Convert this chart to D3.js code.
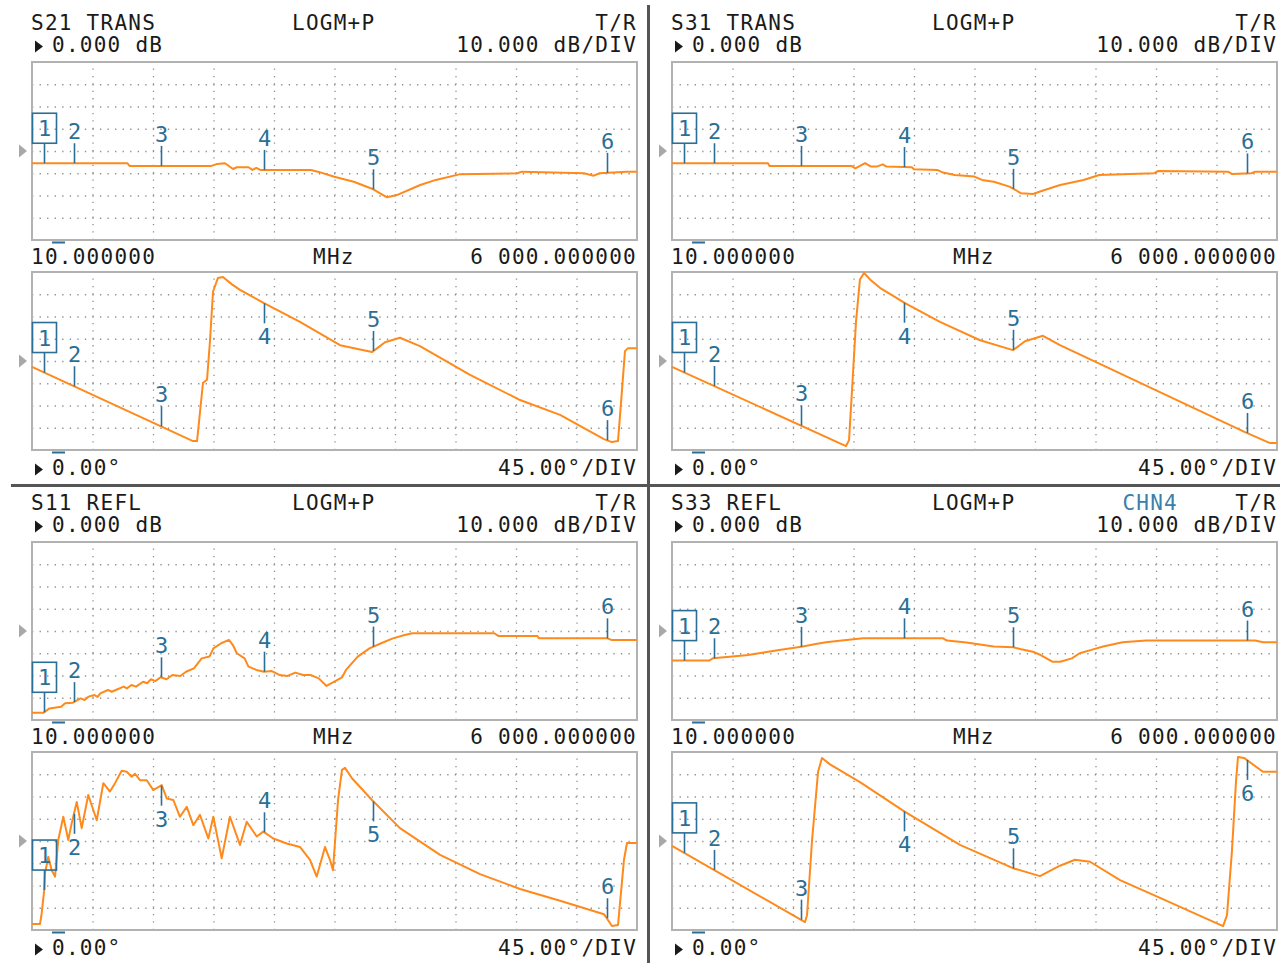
<!DOCTYPE html>
<html>
<head>
<meta charset="utf-8">
<script src="https://cdnjs.cloudflare.com/ajax/libs/d3/7.8.5/d3.min.js"></script>
<style>
  body { margin: 0; background: #fff; }
  svg text { font-family: 'DejaVu Sans Mono', 'Liberation Mono', monospace; }
</style>
</head>
<body>
<div id="chart"></div>
<script>
// Sweep: linear, MHz
const startFreq = 10;
const stopFreq = 6000;
const markerFreqs = [130, 425, 1285, 2310, 3390, 5700];

const titles = ['S21 TRANS', 'S31 TRANS', 'S11 REFL', 'S33 REFL'];
const formatLabel = 'LOGM+P';
const ratioLabel = 'T/R';
const magRefLabel = '0.000 dB';
const magScaleLabel = '10.000 dB/DIV';
const phaseRefLabel = '0.00°';
const phaseScaleLabel = '45.00°/DIV';
const startLabel = '10.000000';
const unitLabel = 'MHz';
const stopLabel = '6 000.000000';

// traces as [MHz, dB] and [MHz, deg]
const s21Mag = [[10,-5.5],[955,-5.5],[975,-6.7],[1786,-6.7],[1845,-5.8],[1921,-5.5],[2000,-8.1],[2038,-7.3],[2154,-7.3],[2192,-8.5],[2231,-7.6],[2269,-8.5],[2772,-8.5],[2849,-9.4],[3003,-11.6],[3196,-13.8],[3389,-17.2],[3525,-20.8],[3622,-19.8],[3854,-15.3],[4008,-13],[4240,-10.5],[4819,-10],[4858,-9.3],[5475,-10],[5572,-11.1],[5630,-10],[5901,-9.3],[6000,-9.3]];
const s21Phase = [[10,-12],[1604,-162],[1644,-162],[1665,-120],[1703,-44],[1743,-38],[1772,40],[1802,140],[1851,168],[1900,170],[1990,155],[2069,144],[2307,117],[2663,79],[3060,32],[3376,18],[3505,38],[3653,47],[3851,30],[4347,-28],[4842,-79],[5238,-109],[5673,-158],[5752,-164],[5812,-162],[5851,-60],[5881,20],[5911,26],[6000,26]];

const s31Mag = [[10,-5.5],[960,-5.5],[975,-6.7],[1786,-6.7],[1825,-7.8],[1922,-5.5],[1980,-7],[2038,-7],[2096,-6],[2134,-7],[2385,-7.3],[2405,-8.2],[2636,-8.5],[2694,-9.7],[2810,-10.8],[3003,-11.5],[3080,-13],[3196,-13.8],[3351,-16],[3467,-19],[3583,-19.3],[3699,-17.5],[3853,-15.3],[4085,-13],[4240,-10.8],[4780,-10],[4819,-9],[5514,-9.3],[5553,-10.3],[5746,-10],[5785,-9.3],[6000,-9.3]];
const s31Phase = [[10,-12],[1733,-172],[1763,-160],[1792,-60],[1832,80],[1871,165],[1911,178],[1970,165],[2069,148],[2317,117],[2663,79],[3060,42],[3386,22],[3505,40],[3683,51],[3851,32],[5683,-144],[5931,-166],[6000,-166]];

const s11Mag = [[10,-36.7],[125,-36.7],[183,-34.8],[299,-34],[338,-32.5],[415,-32.2],[492,-30.3],[530,-31],[570,-29.5],[628,-28.8],[660,-29.6],[686,-28],[763,-26.5],[800,-27.3],[840,-26.5],[917,-25],[950,-25.8],[995,-24.3],[1040,-25],[1110,-22.8],[1150,-23.5],[1188,-21.7],[1230,-22.5],[1284,-20.8],[1342,-21.7],[1400,-19.8],[1478,-20.2],[1535,-18.3],[1613,-16.8],[1690,-12.3],[1767,-11.5],[1806,-7.8],[1883,-5.5],[1960,-4],[1999,-6.3],[2038,-10],[2115,-12.3],[2153,-16],[2231,-17.5],[2308,-18.3],[2385,-18],[2463,-19.8],[2540,-20.2],[2617,-18.7],[2694,-19.8],[2772,-19.8],[2849,-21.3],[2926,-24.7],[3003,-22.8],[3080,-20.8],[3119,-17.5],[3235,-11.5],[3351,-7.8],[3467,-5.5],[3583,-3.3],[3699,-1.8],[3776,-1],[4587,-1],[4626,-2.2],[5012,-2.2],[5031,-3.3],[5708,-3.3],[5746,-4],[6000,-4]];
const s11Phase = [[10,-168],[89,-168],[106,-146],[129,-103],[139,-65],[171,-32],[205,-59],[238,-72],[270,2],[320,49],[369,2],[403,36],[453,79],[502,26],[567,93],[651,42],[716,117],[782,100],[832,117],[898,142],[948,140],[997,130],[1030,136],[1079,123],[1146,123],[1211,103],[1294,113],[1344,86],[1409,83],[1475,49],[1542,69],[1607,32],[1673,53],[1756,5],[1805,49],[1888,-35],[1970,49],[2069,-8],[2136,39],[2235,9],[2300,19],[2399,5],[2532,-5],[2663,-12],[2762,-38],[2829,-72],[2911,-12],[2960,-38],[2990,-59],[3040,83],[3079,144],[3109,148],[3178,127],[3376,83],[3653,26],[4050,-28],[4446,-67],[4842,-97],[5238,-121],[5673,-148],[5752,-172],[5812,-170],[5871,-38],[5901,-4],[6000,-4]];

const s33Mag = [[10,-13.3],[377,-13.3],[415,-12.3],[608,-11.5],[763,-10.8],[917,-9.7],[1072,-8.5],[1188,-7.8],[1304,-7],[1420,-6],[1535,-5.1],[1690,-4.3],[1902,-3.3],[2694,-3.3],[2733,-4.3],[2926,-5.2],[3042,-6],[3196,-7],[3390,-7.3],[3467,-8.2],[3583,-9.3],[3660,-10.8],[3776,-13.8],[3853,-13.8],[3969,-12.3],[4046,-10],[4162,-8.5],[4278,-7],[4471,-5.1],[4703,-4.3],[5785,-4.3],[5862,-5.1],[6000,-5.1]];
const s33Phase = [[10,-10],[1327,-164],[1347,-150],[1396,0],[1456,140],[1495,168],[1574,155],[1871,119],[2317,59],[2861,-8],[3386,-55],[3653,-71],[3851,-50],[4000,-38],[4149,-42],[4446,-79],[4842,-115],[5466,-172],[5505,-150],[5554,-20],[5594,120],[5614,170],[5673,168],[5861,140],[6000,140]];

const magTraces = [s21Mag, s31Mag, s11Mag, s33Mag];
const phaseTraces = [s21Phase, s31Phase, s11Phase, s33Phase];

const orange = '#ff8a1c';
const blue = '#2b6f96';
const gridGrey = '#8e8e8e';
const ADV = 13.9; // char pitch of the screen font

const svg = d3.select('#chart').append('svg')
	.attr('width', 1280)
	.attr('height', 963);

// write text on the character grid
function txt(g, s, x, y, anchor, color) {
	let x0 = x;
	if (anchor === 'end') x0 = x - s.length * ADV;
	if (anchor === 'middle') x0 = x - s.length * ADV / 2;
	g.append('text')
		.attr('x', x0)
		.attr('y', y)
		.attr('fill', color || '#1a1a1a')
		.style('font-size', '21px')
		.style('letter-spacing', '1.26px')
		.text(s);
}

function valueAt(data, f) {
	const i = d3.bisector(d => d[0]).left(data, f);
	if (i <= 0) return data[0][1];
	if (i >= data.length) return data[data.length - 1][1];
	const a = data[i - 1], b = data[i];
	return a[1] + (f - a[0]) / (b[0] - a[0]) * (b[1] - a[1]);
}

// one graticule with its trace and markers
function drawPlot(g, data, top, domain, div) {
	const x = d3.scaleLinear().domain([startFreq, stopFreq]).range([32, 637]);
	const y = d3.scaleLinear().domain(domain).range([top + 178, top]);
	const xGrid = d3.range(1, 10).map(k => startFreq + k * (stopFreq - startFreq) / 10);
	const yGrid = d3.range(domain[0] + div, domain[1], div);

	g.append('g')
		.attr('transform', `translate(0,${top + 178})`)
		.call(d3.axisBottom(x).tickValues(xGrid).tickSize(-178).tickFormat(''))
		.call(a => a.select('.domain').remove())
		.selectAll('line')
		.attr('stroke', gridGrey)
		.attr('stroke-width', 1.3)
		.attr('stroke-dasharray', '1.3,6.1');

	g.append('g')
		.attr('transform', 'translate(32,0)')
		.call(d3.axisLeft(y).tickValues(yGrid).tickSize(-605).tickFormat(''))
		.call(a => a.select('.domain').remove())
		.selectAll('line')
		.attr('stroke', gridGrey)
		.attr('stroke-width', 1.3)
		.attr('stroke-dasharray', '1.3,6.25');

	g.append('rect')
		.attr('x', 32).attr('y', top)
		.attr('width', 605).attr('height', 178)
		.attr('fill', 'none')
		.attr('stroke', '#b2b2b2')
		.attr('stroke-width', 2);

	// reference position arrow
	const yr = y(0);
	g.append('path')
		.attr('d', `M19,${yr - 6.5}L27,${yr}L19,${yr + 6.5}Z`)
		.attr('fill', '#a8a8a8');

	// stimulus tick below the box
	g.append('rect')
		.attr('x', 52).attr('y', top + 179.5)
		.attr('width', 13).attr('height', 2)
		.attr('fill', blue);

	const line = d3.line()
		.x(d => x(d[0]))
		.y(d => y(d[1]));

	g.append('path')
		.datum(data)
		.attr('d', line)
		.attr('fill', 'none')
		.attr('stroke', orange)
		.attr('stroke-width', 2)
		.attr('stroke-linejoin', 'round');

	markerFreqs.forEach((f, i) => {
		const v = valueAt(data, f);
		const mx = Math.round(x(f)) + 0.5;
		const my = y(v);
		const down = v > 0.7 * div;
		const tickEnd = down ? my + 20 : my - 20;
		g.append('line')
			.attr('x1', mx).attr('x2', mx)
			.attr('y1', my).attr('y2', tickEnd)
			.attr('stroke', blue)
			.attr('stroke-width', 1.6);
		const base = down ? tickEnd + 21 : tickEnd - (i === 0 ? 7 : 4);
		g.append('text')
			.attr('x', mx)
			.attr('y', base)
			.attr('text-anchor', 'middle')
			.attr('fill', blue)
			.style('font-size', '22px')
			.text(i + 1);
		if (i === 0) {
			g.append('rect')
				.attr('x', mx - 12).attr('width', 24)
				.attr('y', down ? tickEnd : tickEnd - 30).attr('height', 30)
				.attr('fill', 'none')
				.attr('stroke', blue)
				.attr('stroke-width', 1.6);
		}
	});
}

const quadrants = [[0, 0], [640, 0], [0, 480], [640, 480]];

quadrants.forEach(([ox, oy], q) => {
	const g = svg.append('g').attr('transform', `translate(${ox},${oy})`);

	txt(g, titles[q], 31, 30);
	txt(g, formatLabel, 292, 30);
	txt(g, ratioLabel, 637, 30, 'end');
	if (q === 3) txt(g, 'CHN4', 538, 30, 'end', '#3a80aa');

	g.append('path').attr('d', 'M35,40.5L43,46.5L35,52.5Z').attr('fill', '#1a1a1a');
	txt(g, magRefLabel, 52, 52);
	txt(g, magScaleLabel, 637, 52, 'end');

	drawPlot(g, magTraces[q], 62, [-40, 40], 10);

	txt(g, startLabel, 31, 264);
	txt(g, unitLabel, 313, 264);
	txt(g, stopLabel, 637, 264, 'end');

	drawPlot(g, phaseTraces[q], 272, [-180, 180], 45);

	g.append('path').attr('d', 'M35,463.5L43,469.5L35,475.5Z').attr('fill', '#1a1a1a');
	txt(g, phaseRefLabel, 52, 475);
	txt(g, phaseScaleLabel, 637, 475, 'end');
});

// screen dividers
svg.append('rect').attr('x', 647).attr('y', 5).attr('width', 3).attr('height', 958).attr('fill', '#555');
svg.append('rect').attr('x', 11).attr('y', 484).attr('width', 1269).attr('height', 3).attr('fill', '#555');
</script>
</body>
</html>
